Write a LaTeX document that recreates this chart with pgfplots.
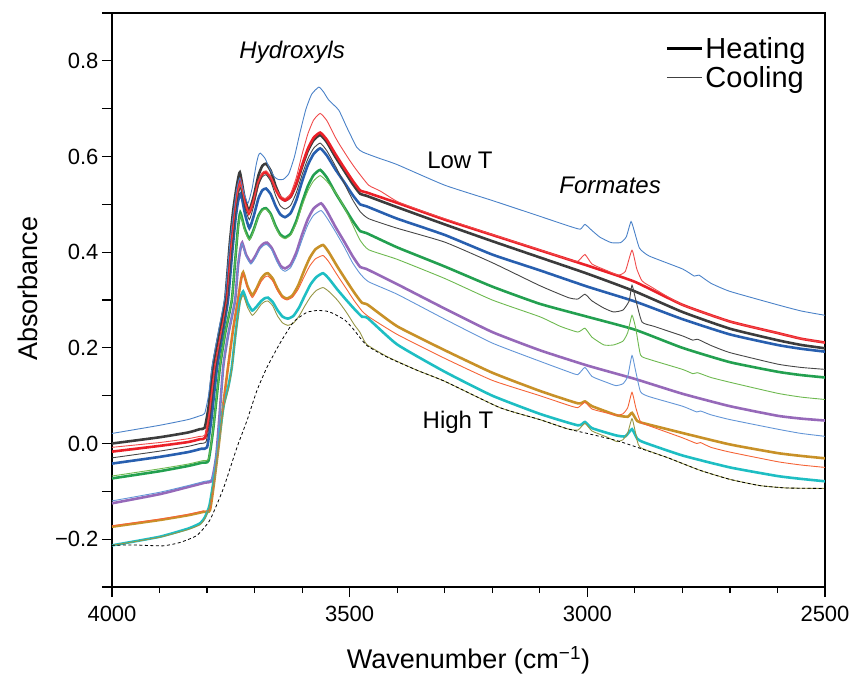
\documentclass[border=0pt]{standalone}
\usepackage{fontspec}
\setmainfont{Liberation Sans}
\usepackage{pgfplots}
\pgfplotsset{compat=1.18}
\definecolor{cBlackH}{RGB}{60,60,60}
\definecolor{cRedH}{RGB}{235,32,40}
\definecolor{cBlueH}{RGB}{40,95,175}
\definecolor{cGreenH}{RGB}{35,160,80}
\definecolor{cPurpleH}{RGB}{150,105,185}
\definecolor{cGoldH}{RGB}{200,145,40}
\definecolor{cCyanH}{RGB}{30,190,195}
\definecolor{cBlueC}{RGB}{75,130,200}
\definecolor{cRedC}{RGB}{240,75,75}
\definecolor{cBlackC}{RGB}{70,70,70}
\definecolor{cGreenC}{RGB}{110,185,80}
\definecolor{cLBlueC}{RGB}{100,150,215}
\definecolor{cOrangeC}{RGB}{245,100,55}
\definecolor{cOliveC}{RGB}{150,150,70}
\begin{document}
\begin{tikzpicture}
\begin{axis}[
  at={(0bp,0bp)}, anchor=south west,
  scale only axis, width=713bp, height=574bp,
  x dir=reverse, xmin=2500, xmax=4000, ymin=-0.3, ymax=0.9,
  xtick={2500,3000,3500,4000},
  xticklabels={2500,3000,3500,4000},
  minor xtick={2600,2700,2800,2900,3100,3200,3300,3400,3600,3700,3800,3900},
  ytick={-0.3,-0.2,-0.1,0,0.1,0.2,0.3,0.4,0.5,0.6,0.7,0.8,0.9},
  yticklabels={,−0.2,,0.0,,0.2,,0.4,,0.6,,0.8,},
  tick align=outside, tick pos=left,
  major tick length=10bp, minor tick length=6bp,
  every tick/.style={black, line width=1.2bp},
  axis line style={line width=1.5bp},
  tick label style={font=\fontsize{22bp}{26bp}\selectfont},
  xticklabel style={yshift=-6bp},
  label style={font=\fontsize{27bp}{32bp}\selectfont},
  xlabel={Wavenumber (cm\textsuperscript{−1})},
  ylabel={Absorbance},
  xlabel style={at={(axis description cs:0.5,0)}, anchor=base, yshift=-81bp, inner sep=0pt},
  ylabel style={at={(axis description cs:-0.1038,0.52)}, anchor=base, inner sep=0pt},
  legend style={draw=none, fill=none, at={(axis description cs:0.776,0.962)}, anchor=north west,
    font=\fontsize{29bp}{32bp}\selectfont, row sep=3bp, inner sep=0pt, cells={anchor=west}},
  legend image code/.code={\draw[#1] (0bp,0bp) -- (35bp,0bp);},
  every axis plot/.append style={smooth, tension=0.3},
]
% ---------------- Heating (thick) ----------------
\addplot[forget plot, cBlackH, line width=2.6bp] coordinates {(4000,0.000) (3900,0.013) (3840,0.023) (3815,0.030) (3805,0.033) (3797,0.075) (3788,0.159) (3775,0.230) (3762,0.299) (3752,0.420) (3745,0.487) (3738,0.535) (3731,0.567) (3722,0.518) (3712,0.486) (3702,0.516) (3692,0.560) (3684,0.580) (3676,0.585) (3666,0.570) (3656,0.539) (3646,0.516) (3636,0.508) (3624,0.516) (3612,0.542) (3600,0.579) (3588,0.612) (3576,0.634) (3562,0.645) (3548,0.630) (3530,0.599) (3512,0.571) (3494,0.543) (3478,0.522) (3465,0.518) (3400,0.494) (3300,0.458) (3200,0.423) (3100,0.389) (3000,0.355) (2900,0.318) (2800,0.275) (2700,0.240) (2600,0.216) (2550,0.206) (2500,0.199)};
\addplot[forget plot, cRedH, line width=2.6bp] coordinates {(4000,-0.017) (3900,-0.005) (3840,0.003) (3815,0.009) (3804,0.012) (3795,0.060) (3783,0.159) (3770,0.230) (3758,0.299) (3749,0.410) (3742,0.475) (3736,0.525) (3730,0.550) (3722,0.509) (3712,0.481) (3702,0.507) (3692,0.546) (3684,0.563) (3676,0.567) (3666,0.555) (3656,0.532) (3646,0.514) (3636,0.508) (3624,0.517) (3612,0.544) (3600,0.582) (3588,0.616) (3576,0.639) (3562,0.650) (3548,0.635) (3530,0.605) (3512,0.577) (3494,0.550) (3478,0.529) (3465,0.525) (3400,0.503) (3300,0.468) (3200,0.436) (3100,0.404) (3000,0.372) (2900,0.338) (2800,0.290) (2700,0.255) (2600,0.231) (2550,0.219) (2500,0.211)};
\addplot[forget plot, cBlueH, line width=2.6bp] coordinates {(4000,-0.042) (3900,-0.028) (3840,-0.018) (3812,-0.011) (3800,-0.008) (3791,0.050) (3779,0.159) (3767,0.230) (3756,0.299) (3747,0.400) (3740,0.470) (3735,0.505) (3729,0.523) (3720,0.479) (3711,0.450) (3702,0.475) (3692,0.512) (3684,0.529) (3676,0.533) (3666,0.521) (3656,0.497) (3646,0.479) (3636,0.473) (3624,0.482) (3612,0.509) (3600,0.548) (3588,0.582) (3576,0.605) (3562,0.617) (3548,0.602) (3530,0.573) (3512,0.547) (3494,0.520) (3478,0.500) (3465,0.496) (3400,0.470) (3300,0.436) (3200,0.395) (3100,0.362) (3000,0.328) (2900,0.297) (2800,0.260) (2700,0.228) (2600,0.206) (2550,0.198) (2500,0.192)};
\addplot[forget plot, cGreenH, line width=2.6bp] coordinates {(4000,-0.073) (3900,-0.058) (3840,-0.047) (3810,-0.040) (3797,-0.036) (3787,0.030) (3773,0.159) (3762,0.230) (3748,0.299) (3741,0.380) (3735,0.450) (3730,0.483) (3721,0.450) (3711,0.428) (3702,0.447) (3692,0.476) (3684,0.489) (3676,0.492) (3666,0.480) (3656,0.455) (3646,0.437) (3636,0.431) (3624,0.439) (3612,0.466) (3600,0.504) (3588,0.538) (3576,0.561) (3562,0.572) (3548,0.556) (3530,0.524) (3512,0.495) (3494,0.466) (3478,0.444) (3465,0.440) (3400,0.410) (3300,0.370) (3200,0.328) (3100,0.292) (3000,0.265) (2900,0.238) (2800,0.200) (2700,0.170) (2600,0.150) (2550,0.143) (2500,0.138)};
\addplot[forget plot, cPurpleH, line width=2.6bp] coordinates {(4000,-0.125) (3900,-0.106) (3840,-0.091) (3805,-0.082) (3790,-0.077) (3780,-0.020) (3766,0.159) (3755,0.230) (3741,0.299) (3735,0.370) (3730,0.405) (3726,0.420) (3718,0.395) (3708,0.379) (3699,0.391) (3689,0.410) (3681,0.418) (3674,0.420) (3664,0.409) (3654,0.388) (3645,0.371) (3636,0.366) (3624,0.374) (3612,0.400) (3600,0.437) (3588,0.469) (3576,0.491) (3560,0.502) (3548,0.486) (3530,0.453) (3512,0.423) (3494,0.392) (3478,0.369) (3465,0.365) (3400,0.333) (3300,0.282) (3200,0.233) (3100,0.195) (3000,0.163) (2900,0.135) (2800,0.104) (2700,0.078) (2600,0.058) (2550,0.052) (2500,0.048)};
\addplot[forget plot, cGoldH, line width=2.6bp] coordinates {(4000,-0.174) (3900,-0.160) (3840,-0.150) (3808,-0.143) (3794,-0.140) (3785,-0.080) (3775,0.000) (3766,0.080) (3756,0.159) (3745,0.240) (3735,0.299) (3729,0.340) (3724,0.358) (3715,0.329) (3705,0.310) (3696,0.324) (3686,0.345) (3678,0.354) (3672,0.356) (3662,0.345) (3652,0.324) (3642,0.308) (3632,0.303) (3620,0.310) (3608,0.331) (3596,0.361) (3584,0.388) (3572,0.406) (3556,0.415) (3544,0.400) (3526,0.370) (3508,0.342) (3490,0.315) (3474,0.294) (3462,0.290) (3400,0.245) (3300,0.195) (3200,0.148) (3100,0.110) (3020,0.084) (3005,0.088) (2990,0.078) (2938,0.059) (2915,0.056) (2906,0.064) (2895,0.047) (2880,0.042) (2800,0.022) (2700,-0.002) (2600,-0.020) (2550,-0.026) (2500,-0.031)};
\addplot[forget plot, cCyanH, line width=2.6bp] coordinates {(4000,-0.213) (3900,-0.195) (3840,-0.178) (3815,-0.167) (3805,-0.155) (3795,-0.130) (3785,-0.070) (3775,0.010) (3765,0.080) (3755,0.120) (3748,0.159) (3740,0.230) (3731,0.299) (3724,0.318) (3715,0.294) (3705,0.278) (3696,0.286) (3686,0.298) (3678,0.304) (3672,0.305) (3662,0.296) (3652,0.279) (3641,0.265) (3630,0.261) (3618,0.267) (3606,0.285) (3594,0.310) (3582,0.333) (3570,0.348) (3556,0.356) (3544,0.345) (3526,0.322) (3508,0.301) (3490,0.281) (3474,0.265) (3462,0.262) (3400,0.207) (3300,0.150) (3200,0.100) (3100,0.062) (3020,0.038) (3005,0.045) (2990,0.032) (2940,0.017) (2920,0.015) (2906,0.030) (2895,0.010) (2880,0.002) (2800,-0.025) (2700,-0.050) (2600,-0.068) (2550,-0.074) (2500,-0.079)};
% ---------------- Cooling (thin) ----------------
\addplot[forget plot, cBlueC, line width=0.9bp] coordinates {(4000,0.021) (3900,0.038) (3840,0.050) (3815,0.058) (3805,0.063) (3797,0.100) (3788,0.170) (3775,0.240) (3762,0.310) (3752,0.420) (3745,0.480) (3738,0.530) (3731,0.555) (3722,0.523) (3714,0.502) (3705,0.534) (3697,0.581) (3692,0.602) (3688,0.607) (3678,0.596) (3668,0.574) (3658,0.557) (3650,0.552) (3640,0.552) (3628,0.564) (3616,0.600) (3604,0.652) (3592,0.699) (3580,0.730) (3565,0.745) (3555,0.735) (3544,0.718) (3523,0.697) (3506,0.661) (3485,0.619) (3472,0.609) (3440,0.597) (3400,0.583) (3300,0.540) (3200,0.508) (3100,0.475) (3040,0.455) (3015,0.448) (3005,0.458) (2990,0.445) (2973,0.431) (2950,0.420) (2930,0.420) (2918,0.432) (2908,0.464) (2900,0.440) (2890,0.408) (2870,0.392) (2800,0.365) (2775,0.350) (2765,0.352) (2740,0.335) (2700,0.318) (2600,0.290) (2550,0.277) (2500,0.268)};
\addplot[forget plot, cRedC, line width=0.9bp] coordinates {(4000,-0.008) (3900,0.002) (3840,0.010) (3815,0.015) (3804,0.018) (3795,0.065) (3783,0.162) (3770,0.233) (3758,0.302) (3749,0.410) (3742,0.475) (3736,0.522) (3730,0.545) (3722,0.508) (3712,0.483) (3702,0.509) (3692,0.548) (3684,0.566) (3676,0.570) (3666,0.558) (3656,0.535) (3646,0.518) (3636,0.512) (3624,0.523) (3612,0.557) (3600,0.605) (3588,0.647) (3576,0.676) (3562,0.690) (3548,0.675) (3530,0.640) (3520,0.623) (3500,0.592) (3485,0.571) (3460,0.540) (3436,0.528) (3400,0.506) (3350,0.487) (3300,0.470) (3200,0.437) (3100,0.405) (3040,0.385) (3020,0.381) (3005,0.395) (2990,0.375) (2960,0.362) (2935,0.352) (2920,0.360) (2906,0.404) (2896,0.365) (2885,0.340) (2870,0.330) (2800,0.290) (2700,0.255) (2600,0.231) (2550,0.219) (2500,0.211)};
\addplot[forget plot, cBlackC, line width=0.9bp] coordinates {(4000,-0.030) (3900,-0.016) (3840,-0.006) (3815,0.000) (3802,0.004) (3793,0.055) (3781,0.160) (3768,0.230) (3757,0.300) (3748,0.400) (3741,0.470) (3736,0.510) (3730,0.535) (3721,0.495) (3711,0.468) (3702,0.496) (3692,0.539) (3684,0.557) (3676,0.562) (3666,0.548) (3656,0.519) (3646,0.497) (3636,0.490) (3624,0.498) (3612,0.525) (3600,0.562) (3588,0.595) (3576,0.617) (3562,0.628) (3548,0.612) (3530,0.580) (3512,0.545) (3494,0.510) (3478,0.485) (3460,0.470) (3400,0.450) (3300,0.421) (3200,0.378) (3100,0.330) (3040,0.305) (3020,0.302) (3005,0.312) (2990,0.298) (2965,0.283) (2945,0.275) (2925,0.279) (2912,0.298) (2906,0.331) (2898,0.300) (2885,0.254) (2860,0.245) (2800,0.225) (2778,0.216) (2768,0.218) (2740,0.205) (2700,0.190) (2600,0.166) (2550,0.159) (2500,0.155)};
\addplot[forget plot, cGreenC, line width=0.9bp] coordinates {(4000,-0.068) (3900,-0.053) (3840,-0.043) (3810,-0.036) (3797,-0.032) (3787,0.030) (3773,0.160) (3762,0.230) (3748,0.300) (3741,0.380) (3735,0.445) (3730,0.478) (3721,0.446) (3711,0.425) (3702,0.445) (3692,0.474) (3684,0.487) (3676,0.490) (3666,0.478) (3656,0.453) (3646,0.434) (3636,0.428) (3624,0.436) (3612,0.461) (3600,0.497) (3588,0.528) (3576,0.549) (3562,0.560) (3548,0.548) (3530,0.525) (3512,0.495) (3494,0.458) (3478,0.425) (3460,0.405) (3400,0.385) (3300,0.345) (3200,0.300) (3100,0.265) (3057,0.245) (3020,0.233) (3005,0.241) (2990,0.222) (2965,0.206) (2945,0.206) (2925,0.214) (2915,0.232) (2906,0.268) (2898,0.240) (2888,0.185) (2870,0.176) (2800,0.155) (2778,0.146) (2768,0.148) (2740,0.138) (2700,0.128) (2600,0.105) (2550,0.097) (2500,0.092)};
\addplot[forget plot, cLBlueC, line width=0.9bp] coordinates {(4000,-0.120) (3900,-0.102) (3840,-0.088) (3805,-0.079) (3790,-0.074) (3780,-0.020) (3766,0.160) (3755,0.230) (3741,0.300) (3735,0.370) (3730,0.405) (3726,0.418) (3718,0.392) (3708,0.375) (3699,0.387) (3689,0.406) (3681,0.414) (3674,0.416) (3664,0.405) (3654,0.382) (3645,0.366) (3636,0.360) (3624,0.368) (3612,0.392) (3600,0.426) (3588,0.457) (3576,0.477) (3560,0.487) (3548,0.472) (3530,0.443) (3512,0.412) (3494,0.378) (3478,0.355) (3460,0.338) (3400,0.312) (3300,0.260) (3200,0.210) (3100,0.172) (3040,0.150) (3020,0.144) (3005,0.159) (2990,0.140) (2960,0.128) (2940,0.121) (2925,0.125) (2915,0.140) (2906,0.184) (2898,0.150) (2888,0.108) (2870,0.098) (2800,0.078) (2770,0.066) (2762,0.068) (2740,0.060) (2700,0.050) (2600,0.030) (2550,0.021) (2500,0.015)};
\addplot[forget plot, cOrangeC, line width=0.9bp] coordinates {(4000,-0.172) (3900,-0.158) (3840,-0.148) (3808,-0.141) (3794,-0.138) (3785,-0.080) (3775,0.000) (3766,0.080) (3756,0.159) (3745,0.240) (3735,0.299) (3729,0.338) (3724,0.355) (3715,0.325) (3705,0.305) (3696,0.319) (3686,0.339) (3678,0.348) (3672,0.350) (3662,0.340) (3652,0.320) (3642,0.305) (3632,0.300) (3620,0.306) (3608,0.323) (3596,0.348) (3584,0.371) (3572,0.386) (3556,0.393) (3544,0.380) (3526,0.352) (3508,0.325) (3490,0.298) (3474,0.277) (3460,0.265) (3400,0.228) (3300,0.178) (3200,0.132) (3100,0.100) (3040,0.080) (3020,0.075) (3005,0.086) (2990,0.072) (2960,0.064) (2940,0.059) (2925,0.062) (2915,0.075) (2906,0.107) (2898,0.075) (2888,0.045) (2870,0.037) (2800,0.012) (2770,0.000) (2762,0.002) (2740,-0.008) (2700,-0.018) (2600,-0.038) (2550,-0.045) (2500,-0.050)};
\addplot[forget plot, cOliveC, line width=0.9bp] coordinates {(4000,-0.213) (3900,-0.196) (3840,-0.180) (3815,-0.170) (3805,-0.158) (3795,-0.133) (3785,-0.073) (3775,0.005) (3765,0.075) (3755,0.115) (3748,0.155) (3740,0.225) (3731,0.292) (3724,0.310) (3715,0.285) (3705,0.268) (3696,0.277) (3686,0.291) (3678,0.297) (3672,0.298) (3662,0.288) (3652,0.267) (3641,0.252) (3630,0.247) (3618,0.252) (3606,0.267) (3594,0.288) (3582,0.307) (3570,0.320) (3556,0.326) (3544,0.318) (3526,0.300) (3508,0.276) (3490,0.248) (3478,0.232) (3464,0.207) (3420,0.181) (3358,0.153) (3300,0.130) (3184,0.075) (3100,0.050) (3043,0.031) (3020,0.028) (3005,0.042) (2990,0.026) (2960,0.014) (2938,0.004) (2925,0.008) (2915,0.022) (2906,0.052) (2898,0.020) (2889,-0.008) (2830,-0.030) (2763,-0.056) (2700,-0.075) (2637,-0.088) (2580,-0.093) (2500,-0.094)};
\addplot[forget plot, black, line width=0.8bp, dash pattern=on 3bp off 2.5bp] coordinates {(4000,-0.213) (3956,-0.212) (3893,-0.214) (3857,-0.207) (3821,-0.192) (3794,-0.160) (3766,-0.095) (3737,-0.008) (3716,0.048) (3695,0.111) (3674,0.159) (3647,0.209) (3619,0.253) (3600,0.268) (3588,0.275) (3569,0.278) (3550,0.277) (3535,0.272) (3510,0.258) (3493,0.240) (3464,0.205) (3420,0.180) (3358,0.153) (3300,0.130) (3184,0.075) (3100,0.050) (3043,0.031) (3000,0.021) (2938,0.006) (2889,-0.010) (2830,-0.030) (2763,-0.056) (2700,-0.075) (2637,-0.088) (2580,-0.093) (2500,-0.094)};
% ---------------- Legend ----------------
\addlegendimage{black, line width=3bp}
\addlegendentry{Heating}
\addlegendimage{black!75, line width=1bp}
\addlegendentry{Cooling}
% ---------------- Annotations ----------------
\node[font=\fontsize{24bp}{28bp}\selectfont\itshape] at (axis cs:3621,0.818) {Hydroxyls};
\node[font=\fontsize{24bp}{28bp}\selectfont] at (axis cs:3268,0.592) {Low T};
\node[font=\fontsize{24bp}{28bp}\selectfont\itshape] at (axis cs:2952,0.540) {Formates};
\node[font=\fontsize{24bp}{28bp}\selectfont] at (axis cs:3272,0.044) {High T};
\end{axis}
\pgfresetboundingbox
\useasboundingbox (-112bp,-88bp) rectangle (744bp,587bp);
\end{tikzpicture}
\end{document}
